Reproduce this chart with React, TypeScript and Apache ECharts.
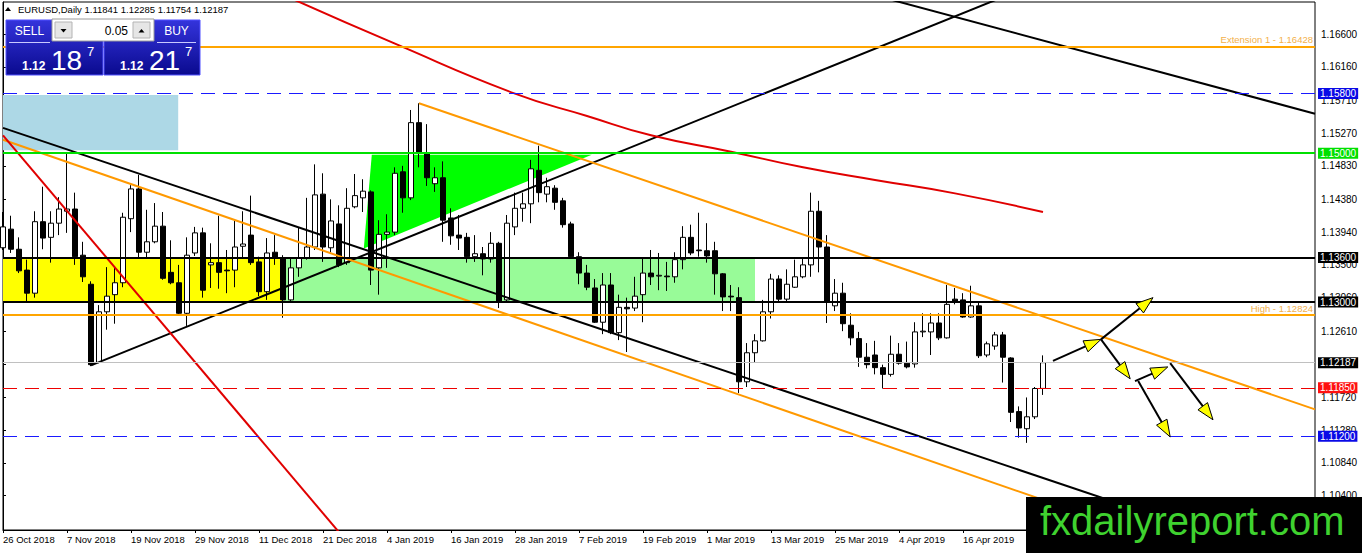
import React, { useEffect, useRef } from 'react';
import * as echarts from 'echarts';

const SYMBOL = 'EURUSD';
const PERIOD = 'Daily';
const FIRST_DAY = '2018-10-26';
const HOLIDAYS = ['2018-12-25', '2019-01-01'];
const EMPTY_BARS = 34; // free space right of the last bar, like the terminal shift
const LABEL_EVERY = 8;
const LAST_LABEL_BAR = 120; // later dates sit under the logo box
const MONTHS = ['Jan', 'Feb', 'Mar', 'Apr', 'May', 'Jun', 'Jul', 'Aug', 'Sep', 'Oct', 'Nov', 'Dec'];

// daily bars, 26 Oct 2018 .. 30 Apr 2019
const OPENS = [
  1.1373, 1.1398, 1.1371, 1.1343, 1.1312, 1.1408, 1.1387, 1.1406, 1.1422, 1.1425,
  1.1363, 1.1324, 1.1219, 1.1287, 1.131, 1.1326, 1.1412, 1.1452, 1.1367, 1.1381,
  1.1402, 1.134, 1.1326, 1.1285, 1.1366, 1.1393, 1.135, 1.1353, 1.1343, 1.1343,
  1.1375, 1.139, 1.1354, 1.1314, 1.1367, 1.1359, 1.1303, 1.1346, 1.1359, 1.1374,
  1.1445, 1.1373, 1.1405, 1.1353, 1.1428, 1.144, 1.1448, 1.1346, 1.1391, 1.1394,
  1.1475, 1.144, 1.1541, 1.1499, 1.1459, 1.1467, 1.1413, 1.139, 1.1387, 1.1361,
  1.1365, 1.1358, 1.1379, 1.1303, 1.1401, 1.1426, 1.1432, 1.1477, 1.1445, 1.1453,
  1.1436, 1.1405, 1.1361, 1.1339, 1.1319, 1.1273, 1.1323, 1.1259, 1.1293, 1.1292,
  1.131, 1.1339, 1.1335, 1.1335, 1.1334, 1.1357, 1.1387, 1.137, 1.1369, 1.1369,
  1.1338, 1.1308, 1.1306, 1.1193, 1.1232, 1.1248, 1.1287, 1.1331, 1.1304, 1.132,
  1.1334, 1.135, 1.1422, 1.1374, 1.1295, 1.1312, 1.1269, 1.1251, 1.1226, 1.1229,
  1.1212, 1.1203, 1.123, 1.1218, 1.1217, 1.126, 1.126, 1.1272, 1.1252, 1.1304,
  1.1303, 1.128, 1.1295, 1.1229, 1.1241, 1.1256, 1.1225, 1.1153, 1.113, 1.1146,
  1.11841,
];
const HIGHS = [
  1.1421, 1.1416, 1.1387, 1.1357, 1.1422, 1.1455, 1.1422, 1.1441, 1.15, 1.1447,
  1.1381, 1.1328, 1.1296, 1.1347, 1.1347, 1.142, 1.1457, 1.1471, 1.1424, 1.1433,
  1.1421, 1.1383, 1.135, 1.1387, 1.1401, 1.14, 1.1379, 1.1416, 1.137, 1.1409,
  1.1422, 1.1443, 1.1361, 1.1386, 1.139, 1.1363, 1.1359, 1.14, 1.144, 1.1485,
  1.1473, 1.1438, 1.143, 1.1453, 1.1472, 1.1465, 1.145, 1.141, 1.1418, 1.1481,
  1.1483, 1.1558, 1.1567, 1.1539, 1.1481, 1.1489, 1.1426, 1.1417, 1.1393, 1.139,
  1.1374, 1.1394, 1.1381, 1.1417, 1.1447, 1.1447, 1.1491, 1.151, 1.1467, 1.1457,
  1.144, 1.1408, 1.1367, 1.135, 1.1331, 1.1339, 1.1339, 1.131, 1.1306, 1.1334,
  1.1358, 1.137, 1.1366, 1.1354, 1.1367, 1.1402, 1.1404, 1.142, 1.1406, 1.1381,
  1.1339, 1.1323, 1.132, 1.1245, 1.1257, 1.1303, 1.1338, 1.1336, 1.1344, 1.1357,
  1.1359, 1.1447, 1.1436, 1.139, 1.1331, 1.1326, 1.1285, 1.126, 1.1245, 1.1248,
  1.1216, 1.1255, 1.1245, 1.1247, 1.1273, 1.1285, 1.1285, 1.1285, 1.1323, 1.1319,
  1.1312, 1.1322, 1.1301, 1.1247, 1.126, 1.126, 1.1226, 1.116, 1.1172, 1.1186,
  1.12285,
];
const LOWS = [
  1.137, 1.1366, 1.1339, 1.13, 1.1306, 1.1371, 1.1353, 1.139, 1.1393, 1.135,
  1.1327, 1.1214, 1.1218, 1.1263, 1.1271, 1.132, 1.1394, 1.1359, 1.1359, 1.1379,
  1.133, 1.1324, 1.1283, 1.1268, 1.1362, 1.1306, 1.1319, 1.1318, 1.1312, 1.132,
  1.1359, 1.135, 1.1308, 1.1303, 1.135, 1.1279, 1.1299, 1.1334, 1.1357, 1.137,
  1.1354, 1.1367, 1.1347, 1.135, 1.1426, 1.1421, 1.1323, 1.131, 1.1346, 1.139,
  1.142, 1.1437, 1.1481, 1.1456, 1.1448, 1.1381, 1.1377, 1.137, 1.1353, 1.1354,
  1.1336, 1.1353, 1.1292, 1.13, 1.139, 1.1408, 1.1406, 1.1434, 1.1434, 1.1424,
  1.14, 1.1359, 1.1324, 1.1316, 1.1272, 1.1257, 1.1257, 1.1249, 1.1233, 1.1288,
  1.1273, 1.1323, 1.1316, 1.1315, 1.1326, 1.1344, 1.1363, 1.1361, 1.1353, 1.131,
  1.1288, 1.1288, 1.1178, 1.1186, 1.1219, 1.1247, 1.1278, 1.13, 1.1301, 1.1319,
  1.1332, 1.1334, 1.134, 1.1272, 1.1288, 1.1261, 1.1242, 1.1213, 1.1211, 1.1203,
  1.1184, 1.12, 1.1216, 1.1211, 1.1212, 1.1253, 1.1229, 1.1249, 1.1251, 1.1297,
  1.1279, 1.1279, 1.1225, 1.1226, 1.1236, 1.1192, 1.1139, 1.1118, 1.1111, 1.1143,
  1.11754,
];
const CLOSES = [
  1.1401, 1.1371, 1.1342, 1.1312, 1.1408, 1.1386, 1.1406, 1.1425, 1.1425, 1.1361,
  1.1334, 1.1216, 1.1287, 1.1308, 1.1326, 1.1414, 1.1452, 1.1367, 1.1381, 1.1402,
  1.1332, 1.1326, 1.1285, 1.1363, 1.1393, 1.1316, 1.1353, 1.134, 1.1342, 1.1374,
  1.1378, 1.1353, 1.1314, 1.1366, 1.1359, 1.1303, 1.1346, 1.1359, 1.1374, 1.1444,
  1.1374, 1.1409, 1.135, 1.1426, 1.1443, 1.1449, 1.1343, 1.1391, 1.1394, 1.1473,
  1.144, 1.1541, 1.15, 1.1467, 1.1467, 1.141, 1.1389, 1.1386, 1.1361, 1.1365,
  1.1358, 1.1379, 1.1301, 1.1406, 1.1426, 1.1432, 1.1479, 1.1447, 1.1455, 1.1434,
  1.1404, 1.1361, 1.1339, 1.132, 1.1273, 1.1323, 1.1259, 1.1293, 1.1291, 1.1308,
  1.1339, 1.1334, 1.1336, 1.1334, 1.1357, 1.1387, 1.1366, 1.1369, 1.1362, 1.1338,
  1.1307, 1.1307, 1.1193, 1.1232, 1.1248, 1.1287, 1.1331, 1.1304, 1.1324, 1.1334,
  1.135, 1.1422, 1.1374, 1.13, 1.1312, 1.1271, 1.1252, 1.1226, 1.1216, 1.1212,
  1.1203, 1.123, 1.1218, 1.1213, 1.126, 1.1261, 1.1272, 1.1252, 1.1297, 1.13,
  1.128, 1.1295, 1.1228, 1.1244, 1.1256, 1.1226, 1.1152, 1.1131, 1.1146, 1.1184,
  1.12187,
];

const Y_MIN = 1.0994;
const Y_MAX = 1.1703;
const Y_TICKS = [1.166, 1.1616, 1.1571, 1.1527, 1.1483, 1.1438, 1.1394, 1.135, 1.1306, 1.1261, 1.1217, 1.1172, 1.1128, 1.1084, 1.104];

const BID = 1.12187;
const ASK = 1.12217;
const LOT = '0.05';

// horizontal levels drawn on the chart
const LEVELS = [1.16428, 1.158, 1.15, 1.136, 1.13, 1.12824, 1.12187, 1.1185, 1.112];
const LEVEL_NAMES = ['Extension 1', '', '', '', '', 'High', '', '', ''];

// trend lines, [bar, price] pairs
const UP_TREND = [[11, 1.1215], [124.6, 1.1708]];
const DOWN_TREND = [[0, 1.1534], [164, 1.0941]];
const TOP_TREND = [[110, 1.1709], [164, 1.1553]];
const CHANNEL_LOW = [[0, 1.1518], [164, 1.0908]];
const CHANNEL_HIGH = [[52, 1.1567], [164, 1.1156]];
const STEEP_LINE = [[0, 1.1524], [45, 1.0953]];
const SLOW_MA = [
  [36, 1.1708], [49, 1.1647], [64, 1.158], [73, 1.155], [81, 1.1524],
  [91, 1.1502], [100, 1.1481], [109, 1.1464], [119, 1.1446], [130, 1.1421],
];

// zones: [fromBar, toBar, top, bottom]
const ZONES = [
  [0, 21.9, 1.1578, 1.1504],
  [0, 35, 1.136, 1.13],
  [35, 94, 1.136, 1.13],
];
const ZONE_COLORS = ['#add8e6', '#ffff00', '#98fb98'];
const WEDGE = [[46.1, 1.1498], [73.6, 1.1498], [45.1, 1.1372]];

// forecast arrows: [fromBar, fromPrice, toBar, toPrice]
const ARROWS = [
  [131.25, 1.1221, 137.25, 1.125],
  [137.25, 1.125, 143.75, 1.1306],
  [137.25, 1.125, 140.9, 1.1197],
  [141.5, 1.1194, 145.6, 1.1213],
  [141.9, 1.1194, 145.9, 1.1119],
  [145.9, 1.1218, 151.25, 1.1142],
];

const FONT = 'Liberation Sans';

const tradingDays = (first: string, count: number) => {
  const out: string[] = [];
  const d = new Date(first + 'T00:00:00Z');
  while (out.length < count) {
    const iso = d.toISOString().slice(0, 10);
    const wd = d.getUTCDay();
    if (wd !== 0 && wd !== 6 && !HOLIDAYS.includes(iso)) {
      out.push(`${d.getUTCDate()} ${MONTHS[d.getUTCMonth()]} ${d.getUTCFullYear()}`);
    }
    d.setUTCDate(d.getUTCDate() + 1);
  }
  return out;
};

const levelStyles = [
  { color: '#ffa500', type: 'solid', width: 2, box: '' },
  { color: '#1a1aff', type: [14, 8], width: 1.2, box: '#0a0ae6' },
  { color: '#00e000', type: 'solid', width: 2, box: '#00e000' },
  { color: '#000000', type: 'solid', width: 2, box: '#000000' },
  { color: '#000000', type: 'solid', width: 2, box: '#000000' },
  { color: '#ffa500', type: 'solid', width: 2, box: '' },
  { color: '#c0c0c0', type: 'solid', width: 1, box: '#000000' },
  { color: '#ee0000', type: [14, 8], width: 1.2, box: '#ff1010' },
  { color: '#1a1aff', type: [14, 8], width: 1.2, box: '#0a0ae6' },
];

const trendSeries = (data: number[][], color: string, smooth = false) => ({
  type: 'line',
  xAxisIndex: 1,
  data,
  smooth,
  symbol: 'none',
  silent: true,
  z: 4,
  lineStyle: { color, width: 2 },
});

const App: React.FC = () => {
  const chartRef = useRef<HTMLDivElement>(null);

  useEffect(() => {
    const chart = echarts.init(chartRef.current!, null, { renderer: 'svg' });
    const days = tradingDays(FIRST_DAY, OPENS.length + EMPTY_BARS);
    const candles = OPENS.map((o, i) => [o, CLOSES[i], LOWS[i], HIGHS[i]]);
    const last = OPENS.length - 1;
    const header = `${SYMBOL},${PERIOD} ${OPENS[last].toFixed(5)} ${HIGHS[last].toFixed(5)} ${LOWS[last].toFixed(5)} ${CLOSES[last].toFixed(5)}`;

    const levelLines = LEVELS.map((v, i) => {
      const s = levelStyles[i];
      const label = s.box
        ? {
            show: true,
            position: 'end',
            distance: 3,
            formatter: v.toFixed(5),
            color: '#fff',
            backgroundColor: s.box,
            padding: [1, 2, 0, 2],
            fontSize: 10,
            fontFamily: FONT,
          }
        : {
            show: true,
            position: 'insideEndTop',
            distance: 2,
            formatter: `${LEVEL_NAMES[i]} - ${v.toFixed(5)}`,
            color: '#f3b04a',
            fontSize: 9.5,
            fontFamily: FONT,
          };
      return { yAxis: v, lineStyle: { color: s.color, type: s.type, width: s.width }, label };
    });

    const bigPrice = (x: number, price: number) => {
      const txt = price.toFixed(5);
      return [
        { type: 'text', x, y: 66, style: { text: txt.slice(0, 4), fill: '#fff', font: `bold 12px "${FONT}"`, verticalAlign: 'middle' } },
        { type: 'text', x: x + 29, y: 60, style: { text: txt.slice(4, 6), fill: '#fff', font: `28px "${FONT}"`, verticalAlign: 'middle' } },
        { type: 'text', x: x + 65, y: 51, style: { text: txt.slice(6), fill: '#fff', font: `13px "${FONT}"`, verticalAlign: 'middle' } },
      ];
    };
    const panelFill = new echarts.graphic.LinearGradient(0, 0, 0, 1, [
      { offset: 0, color: '#3434dc' },
      { offset: 1, color: '#0a0a8e' },
    ]);
    const showDate = (i: number) => i % LABEL_EVERY === 0 && i <= LAST_LABEL_BAR;

    const option = {
      animation: false,
      backgroundColor: '#fff',
      textStyle: { fontFamily: FONT },
      grid: { left: 3, right: 47, top: 2, bottom: 23, show: true, borderColor: '#000', borderWidth: 1, backgroundColor: '#fff' },
      xAxis: [
        {
          type: 'category',
          data: days,
          boundaryGap: false,
          axisLine: { lineStyle: { color: '#000', width: 1 } },
          axisTick: { interval: showDate, length: 3, lineStyle: { color: '#000' } },
          axisLabel: { interval: showDate, align: 'left', color: '#000', fontSize: 9.5, margin: 4, fontFamily: FONT },
          splitLine: { show: false },
        },
        { type: 'value', min: 0, max: days.length - 1, show: false },
      ],
      yAxis: {
        type: 'value',
        position: 'right',
        min: Y_MIN,
        max: Y_MAX,
        axisLine: { show: true, lineStyle: { color: '#000' } },
        axisTick: { show: true, customValues: Y_TICKS, length: 3, lineStyle: { color: '#000' } },
        axisLabel: { customValues: Y_TICKS, formatter: (v: number) => v.toFixed(5), color: '#000', fontSize: 10, margin: 6, fontFamily: FONT },
        splitLine: { show: false },
      },
      series: [
        {
          type: 'custom',
          xAxisIndex: 1,
          data: ZONES,
          z: 1,
          silent: true,
          renderItem: (params: any, api: any) => {
            const a = api.coord([api.value(0), api.value(2)]);
            const b = api.coord([api.value(1), api.value(3)]);
            return {
              type: 'rect',
              shape: { x: a[0], y: a[1], width: b[0] - a[0], height: b[1] - a[1] },
              style: { fill: ZONE_COLORS[params.dataIndex] },
            };
          },
        },
        {
          type: 'custom',
          xAxisIndex: 1,
          data: [WEDGE[0]],
          z: 1,
          silent: true,
          renderItem: (_params: any, api: any) => ({
            type: 'polygon',
            shape: { points: WEDGE.map((p) => api.coord(p)) },
            style: { fill: '#00ff00' },
          }),
        },
        {
          type: 'candlestick',
          data: candles,
          barWidth: 5,
          z: 3,
          silent: true,
          itemStyle: { color: '#fff', color0: '#000', borderColor: '#000', borderColor0: '#000', borderColorDoji: '#000', borderWidth: 1 },
          markLine: { silent: true, precision: 5, symbol: ['none', 'none'], animation: false, data: levelLines },
        },
        trendSeries(UP_TREND, '#000'),
        trendSeries(DOWN_TREND, '#000'),
        trendSeries(TOP_TREND, '#000'),
        trendSeries(CHANNEL_LOW, '#ff9900'),
        trendSeries(CHANNEL_HIGH, '#ff9900'),
        trendSeries(STEEP_LINE, '#e00000'),
        trendSeries(SLOW_MA, '#e00000', true),
        {
          type: 'custom',
          xAxisIndex: 1,
          data: ARROWS,
          z: 5,
          silent: true,
          renderItem: (_params: any, api: any) => {
            const a = api.coord([api.value(0), api.value(1)]);
            const b = api.coord([api.value(2), api.value(3)]);
            const dx = b[0] - a[0];
            const dy = b[1] - a[1];
            const len = Math.hypot(dx, dy);
            const ux = dx / len;
            const uy = dy / len;
            const base = [b[0] - ux * 17, b[1] - uy * 17];
            const p1 = [base[0] - uy * 6, base[1] + ux * 6];
            const p2 = [base[0] + uy * 6, base[1] - ux * 6];
            return {
              type: 'group',
              children: [
                { type: 'line', shape: { x1: a[0], y1: a[1], x2: base[0], y2: base[1] }, style: { stroke: '#000', lineWidth: 2 } },
                { type: 'polygon', shape: { points: [b, p1, p2] }, style: { fill: '#ffff00', stroke: '#000', lineWidth: 1 } },
              ],
            };
          },
        },
      ],
      graphic: [
        { type: 'polygon', z: 100, shape: { points: [[5, 11], [11, 11], [8, 7]] }, style: { fill: '#000' } },
        { type: 'text', z: 100, x: 18, y: 9, style: { text: header, fill: '#000', font: `9.5px "${FONT}"`, verticalAlign: 'middle' } },
        { type: 'rect', z: 100, shape: { x: 6, y: 20, width: 97, height: 55 }, style: { fill: panelFill, stroke: '#5050ff', lineWidth: 1 } },
        { type: 'rect', z: 100, shape: { x: 104, y: 20, width: 96, height: 55 }, style: { fill: panelFill, stroke: '#5050ff', lineWidth: 1 } },
        { type: 'rect', z: 101, shape: { x: 9, y: 42, width: 41, height: 1 }, style: { fill: '#c8c8ff' } },
        { type: 'rect', z: 101, shape: { x: 157, y: 42, width: 39, height: 1 }, style: { fill: '#c8c8ff' } },
        { type: 'text', z: 101, x: 29.5, y: 31, style: { text: 'SELL', fill: '#fff', font: `12px "${FONT}"`, align: 'center', verticalAlign: 'middle' } },
        { type: 'text', z: 101, x: 176.5, y: 31, style: { text: 'BUY', fill: '#fff', font: `12px "${FONT}"`, align: 'center', verticalAlign: 'middle' } },
        { type: 'rect', z: 101, shape: { x: 52, y: 19, width: 102, height: 22 }, style: { fill: '#fff', stroke: '#9a9a9a', lineWidth: 1 } },
        { type: 'rect', z: 102, shape: { x: 55, y: 22, width: 17, height: 16 }, style: { fill: '#e6e6e6', stroke: '#b4b4b4', lineWidth: 1 } },
        { type: 'rect', z: 102, shape: { x: 133, y: 22, width: 17, height: 16 }, style: { fill: '#e6e6e6', stroke: '#b4b4b4', lineWidth: 1 } },
        { type: 'polygon', z: 103, shape: { points: [[60.5, 29], [66.5, 29], [63.5, 32.5]] }, style: { fill: '#000' } },
        { type: 'polygon', z: 103, shape: { points: [[138.5, 32.5], [144.5, 32.5], [141.5, 29]] }, style: { fill: '#000' } },
        { type: 'text', z: 103, x: 128, y: 31, style: { text: LOT, fill: '#000', font: `12px "${FONT}"`, align: 'right', verticalAlign: 'middle' } },
        ...bigPrice(22, BID).map((el) => ({ ...el, z: 101 })),
        ...bigPrice(120, ASK).map((el) => ({ ...el, z: 101 })),
        { type: 'rect', z: 100, shape: { x: 1026, y: 497, width: 336, height: 56 }, style: { fill: '#000' } },
        { type: 'text', z: 101, x: 1040, y: 521, style: { text: 'fxdailyreport.com', fill: '#3fd22f', font: `40px "${FONT}"`, verticalAlign: 'middle' } },
      ],
    };

    chart.setOption(option as any);

    return () => {
      chart.dispose();
    };
  }, []);

  return (
    <div
      ref={chartRef}
      style={{ position: 'absolute', left: 0, top: 0, width: '1362px', height: '553px' }}
    />
  );
};

export default App;
